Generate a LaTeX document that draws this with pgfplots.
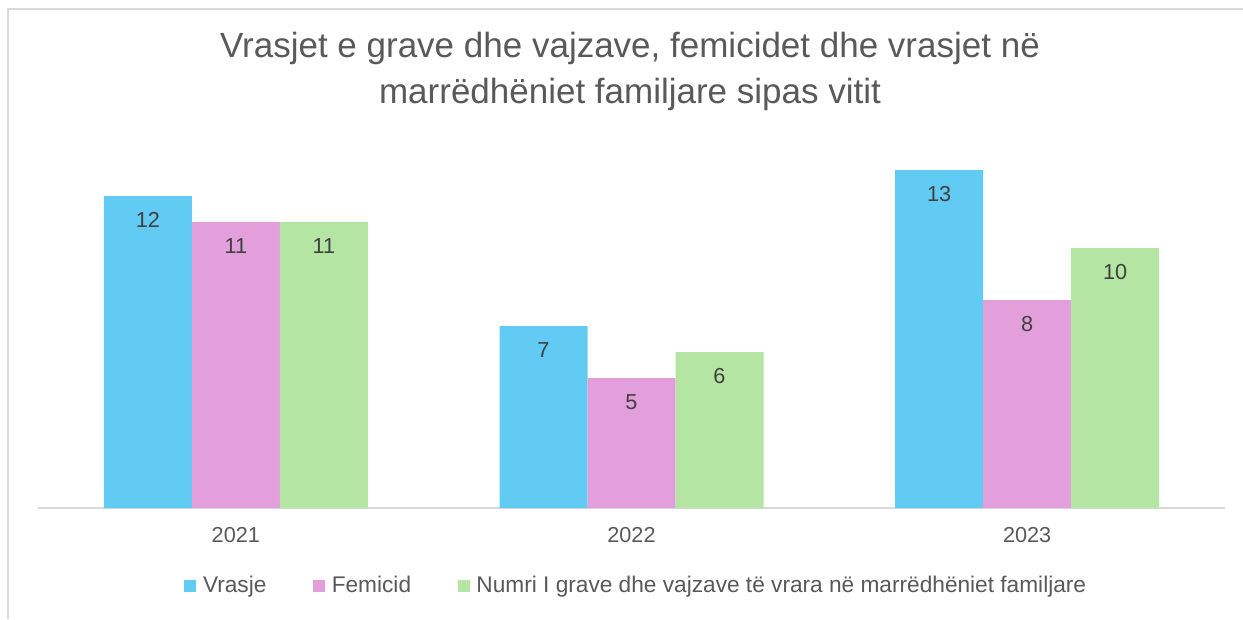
\documentclass[border=0pt]{standalone}
\usepackage{fontspec}
\setmainfont{Liberation Sans}
\usepackage{pgfplots}
\pgfplotsset{compat=1.18}
\definecolor{cblue}{RGB}{97,203,244}
\definecolor{cpink}{RGB}{227,159,220}
\definecolor{cgreen}{RGB}{180,229,162}
\definecolor{ctxt}{RGB}{89,89,89}
\definecolor{clab}{RGB}{64,64,64}
\definecolor{cframe}{RGB}{217,217,217}
\begin{document}
\begin{tikzpicture}[x=0.6pt,y=0.6pt]
% page size in pixels of the reference
\path[use as bounding box] (0,0) rectangle (1243,619);
\draw[cframe,line width=1.2pt] (8,0) -- (8,610) -- (1243,610);
\node[text=ctxt,font=\fontsize{21}{25}\selectfont] at (630,571) {Vrasjet e grave dhe vajzave, femicidet dhe vrasjet në};
\node[text=ctxt,font=\fontsize{21}{25}\selectfont] at (630,525) {marrëdhëniet familjare sipas vitit};
\begin{axis}[
  at={(22.8pt,66.6pt)}, anchor=south west,
  scale only axis,
  width=712.2pt, height=218.4pt,
  ybar=0pt, bar width=52.8pt,
  xmin=-0.5, xmax=2.5, ymin=0, ymax=14,
  xtick={0,1,2}, xticklabels={2021,2022,2023},
  ytick=\empty,
  major tick length=0pt,
  axis y line=none,
  axis x line*=bottom,
  x axis line style={cframe,line width=1.2pt,-},
  xticklabel style={text=ctxt,font=\fontsize{13}{15}\selectfont,yshift=-8pt},
  /pgf/number format/assume math mode=true,
  nodes near coords,
  every node near coord/.append style={text=clab,font=\fontsize{13}{15}\selectfont,anchor=center,yshift=-14.4pt},
  legend columns=-1,
  legend style={at={(0.5046,-0.2140)},anchor=center,draw=none,
    font=\fontsize{13.6}{16}\selectfont,text=ctxt,
    /tikz/every odd column/.append style={column sep=2pt},
    /tikz/every even column/.append style={column sep=26pt}},
  legend image code/.code={\fill[#1] (0pt,-3.6pt) rectangle (7.2pt,3.6pt);},
]
\addplot[fill=cblue,draw=none] coordinates {(0,12) (1,7) (2,13)};
\addplot[fill=cpink,draw=none] coordinates {(0,11) (1,5) (2,8)};
\addplot[fill=cgreen,draw=none] coordinates {(0,11) (1,6) (2,10)};
\legend{Vrasje,Femicid,Numri I grave dhe vajzave të vrara në marrëdhëniet familjare}
\end{axis}
\end{tikzpicture}
\end{document}
